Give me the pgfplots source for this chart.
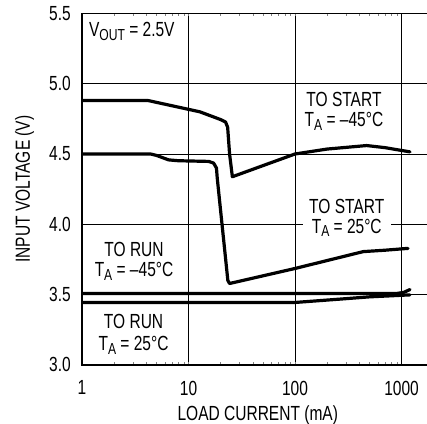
\documentclass[border=0pt]{standalone}
\usepackage{fontspec}
\setmainfont[FakeStretch=0.76]{Liberation Sans}
\usepackage{pgfplots}
\pgfplotsset{compat=1.18}
\newcommand{\sub}[1]{\raisebox{-3.8bp}{\fontsize{16}{16}\selectfont #1}}
\tikzset{curve/.style={black, line width=3.2bp, line join=round, line cap=round, mark=none}}
\begin{document}
\begin{tikzpicture}
\begin{axis}[name=ax, xmode=log, scale only axis,
  width=351.6bp, height=351.2bp,
  xmin=1, xmax=2000, ymin=3, ymax=5.5,
  xtick={1,10,100,1000}, xticklabels={1,10,100,1000},
  ytick={3,3.5,4,4.5,5,5.5}, yticklabels={3.0,3.5,4.0,4.5,5.0,5.5},
  minor xtick={}, minor ytick={}, major tick length=0pt,
  grid=major, major grid style={black, line width=0.8bp},
  axis line style={line width=1.8bp},
  font=\fontsize{20.5}{21}\selectfont,
  yticklabel style={anchor=east, inner sep=0pt, xshift=-11bp},
  xticklabel style={anchor=north, inner sep=0pt, yshift=-16bp},
]
% TO START, TA = -45C
\addplot[curve] coordinates {(1,4.88) (4.2,4.88) (12.8,4.80) (20,4.745) (22.3,4.727) (23.3,4.69) (24.3,4.5) (25.8,4.338) (100,4.5) (200,4.535) (470,4.56) (700,4.545) (1200,4.515)};
% TO START, TA = 25C
\addplot[curve] coordinates {(1,4.5) (4.4,4.5) (5.0,4.49) (6.5,4.458) (8,4.452) (15.5,4.447) (17.2,4.435) (18.3,4.40) (18.6,4.33) (23.4,3.60) (24.3,3.578) (100,3.685) (437,3.805) (700,3.815) (1150,3.828)};
% TO RUN, TA = -45C
\addplot[curve] coordinates {(1,3.507) (900,3.507) (1050,3.515) (1200,3.535)};
% TO RUN, TA = 25C
\addplot[curve] coordinates {(1,3.443) (100,3.443) (300,3.47) (500,3.483) (1200,3.497)};

\node[anchor=base west, inner sep=0pt] at (axis cs:1.16,5.336) {V\sub{OUT} = 2.5V};
\node[anchor=base, inner sep=0pt] at (axis cs:288,4.836) {TO START};
\node[anchor=base, inner sep=0pt] at (axis cs:288,4.694) {T\sub{A} = –45°C};
\node[anchor=base, inner sep=0pt] at (axis cs:306,4.079) {TO START};
\node[anchor=base, fill=white, inner xsep=9bp, inner ysep=2bp] at (axis cs:306,3.937) {T\sub{A} = 25°C};
\node[anchor=base, inner sep=0pt] at (axis cs:3.08,3.768) {TO RUN};
\node[anchor=base, inner sep=0pt] at (axis cs:3.08,3.625) {T\sub{A} = –45°C};
\node[anchor=base, inner sep=0pt] at (axis cs:3.05,3.260) {TO RUN};
\node[anchor=base, inner sep=0pt] at (axis cs:3.05,3.103) {T\sub{A} = 25°C};
\end{axis}
\path (ax.south) ++(0,-55.8bp) node[anchor=base, inner sep=0pt, font=\fontsize{20.5}{21}\selectfont] {LOAD CURRENT (mA)};
\path (ax.west) ++(-52bp,0) node[rotate=90, anchor=base, inner sep=0pt, font=\fontsize{20.5}{21}\selectfont] {INPUT VOLTAGE (V)};
\pgfresetboundingbox
\useasboundingbox (ax.south west) ++(-82bp,-59.3bp) rectangle ++(427bp,424bp);
\end{tikzpicture}
\end{document}
